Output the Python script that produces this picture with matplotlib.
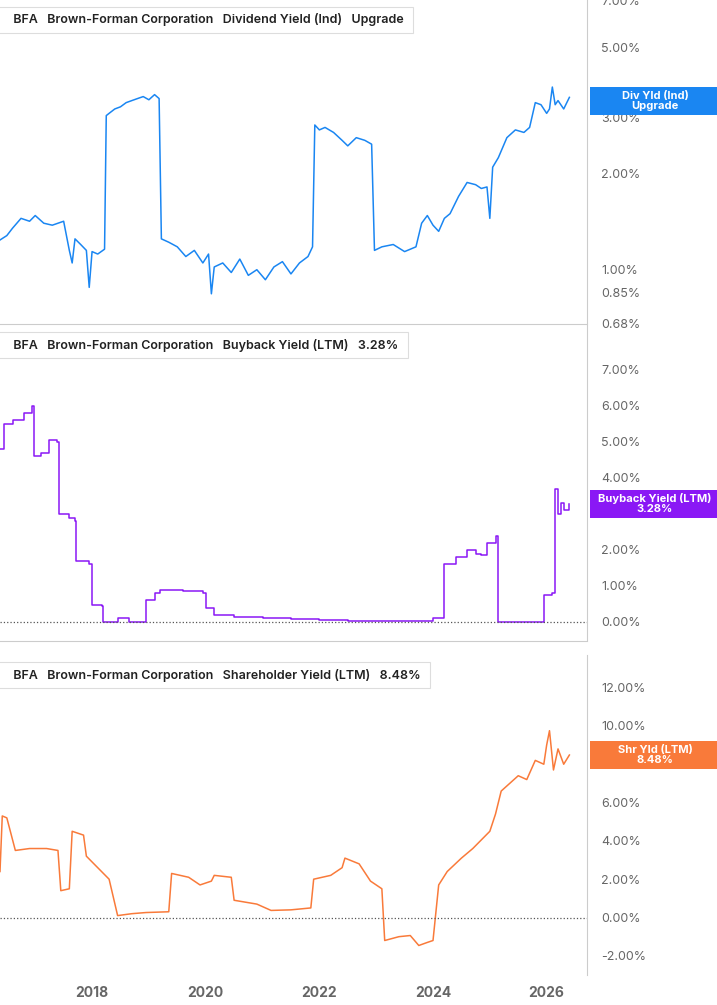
import matplotlib
matplotlib.use("Agg")
import matplotlib.pyplot as plt
import matplotlib.ticker as mt
from matplotlib.patches import Rectangle

plt.rcParams['font.family'] = ['Inter', 'DejaVu Sans']

div_t = [2016.38,2016.5,2016.6,2016.75,2016.9,2017.0,2017.15,2017.3,2017.5,2017.6,2017.65,2017.7,2017.8,2017.9,2017.95,2018.0,2018.1,2018.22,2018.25,2018.3,2018.4,2018.5,2018.6,2018.7,2018.8,2018.9,2019.0,2019.1,2019.18,2019.22,2019.35,2019.5,2019.65,2019.8,2019.95,2020.05,2020.1,2020.15,2020.3,2020.45,2020.6,2020.75,2020.9,2021.05,2021.2,2021.35,2021.5,2021.65,2021.8,2021.88,2021.92,2022.0,2022.1,2022.25,2022.4,2022.5,2022.65,2022.8,2022.92,2022.97,2023.1,2023.3,2023.5,2023.7,2023.8,2023.9,2024.0,2024.1,2024.2,2024.3,2024.45,2024.6,2024.75,2024.85,2024.95,2025.0,2025.05,2025.15,2025.3,2025.45,2025.6,2025.7,2025.8,2025.9,2026.0,2026.05,2026.1,2026.15,2026.2,2026.3,2026.4]
div_v = [1.24,1.28,1.35,1.45,1.42,1.48,1.40,1.38,1.42,1.15,1.05,1.25,1.20,1.15,0.88,1.14,1.12,1.16,3.05,3.10,3.20,3.25,3.35,3.40,3.45,3.50,3.42,3.55,3.45,1.25,1.22,1.18,1.10,1.15,1.05,1.12,0.84,1.02,1.05,0.98,1.08,0.96,1.00,0.93,1.02,1.06,0.97,1.05,1.10,1.18,2.85,2.75,2.80,2.70,2.55,2.45,2.60,2.55,2.48,1.15,1.18,1.20,1.14,1.18,1.40,1.48,1.38,1.32,1.45,1.50,1.70,1.88,1.85,1.80,1.82,1.45,2.10,2.25,2.60,2.75,2.70,2.80,3.35,3.30,3.10,3.20,3.75,3.30,3.40,3.20,3.48]

bb_t = [2016.38,2016.45,2016.6,2016.8,2016.95,2016.97,2017.1,2017.25,2017.38,2017.42,2017.6,2017.7,2017.72,2017.95,2018.0,2018.18,2018.2,2018.4,2018.45,2018.65,2018.95,2019.1,2019.2,2019.6,2019.95,2020.0,2020.15,2020.5,2021.0,2021.5,2022.0,2022.5,2023.0,2023.5,2023.92,2024.0,2024.15,2024.2,2024.4,2024.6,2024.75,2024.85,2024.95,2025.1,2025.15,2025.5,2025.9,2025.95,2026.05,2026.1,2026.15,2026.2,2026.25,2026.3,2026.4]
bb_v = [4.8,5.5,5.6,5.8,6.0,4.6,4.7,5.05,5.0,3.0,2.9,2.8,1.7,1.6,0.47,0.45,0.0,0.0,0.1,0.0,0.6,0.8,0.9,0.85,0.8,0.4,0.2,0.15,0.12,0.08,0.05,0.03,0.02,0.02,0.02,0.1,0.1,1.6,1.8,2.0,1.9,1.85,2.2,2.4,0.0,0.0,0.0,0.75,0.75,0.8,3.7,3.0,3.3,3.1,3.28]

sh_t = [2016.38,2016.42,2016.5,2016.65,2016.9,2017.2,2017.4,2017.45,2017.6,2017.65,2017.85,2017.9,2018.3,2018.45,2018.7,2018.95,2019.35,2019.4,2019.7,2019.9,2020.1,2020.15,2020.45,2020.5,2020.9,2021.15,2021.5,2021.85,2021.9,2022.2,2022.4,2022.45,2022.7,2022.9,2023.1,2023.15,2023.4,2023.6,2023.75,2023.9,2024.0,2024.1,2024.25,2024.5,2024.7,2024.9,2025.0,2025.1,2025.2,2025.35,2025.5,2025.65,2025.8,2025.95,2026.0,2026.05,2026.12,2026.2,2026.3,2026.4]
sh_v = [2.4,5.3,5.2,3.5,3.6,3.6,3.5,1.4,1.5,4.5,4.3,3.2,2.0,0.1,0.2,0.26,0.3,2.3,2.1,1.7,1.9,2.2,2.1,0.9,0.7,0.37,0.4,0.5,2.0,2.2,2.6,3.1,2.8,1.9,1.5,-1.2,-1.0,-0.94,-1.46,-1.3,-1.2,1.7,2.4,3.1,3.6,4.2,4.5,5.4,6.6,7.0,7.4,7.2,8.2,8.0,9.0,9.75,7.7,8.8,8.0,8.48]

fig = plt.figure(figsize=(7.17,10.05), dpi=100)
W = 717; H = 1005
def ax_at(top, bot):
    return fig.add_axes([0, 1-bot/H, 587/W, (bot-top)/H])

xl = (2016.38, 2026.71)
gray = '#666666'
panels = [
    (0, 323, div_t, div_v, '#1a86f2', 'Dividend Yield (Ind)', 'Upgrade', 'Div Yld (Ind)\nUpgrade', 101),
    (325, 640, bb_t, bb_v, '#8a18f5', 'Buyback Yield (LTM)', '3.28%', 'Buyback Yield (LTM)\n3.28%', 504),
    (655, 975, sh_t, sh_v, '#f97a3a', 'Shareholder Yield (LTM)', '8.48%', 'Shr Yld (LTM)\n8.48%', 755),
]
for i,(top,bot,t,v,c,name,val,lab,ly) in enumerate(panels):
    ax = ax_at(top,bot)
    ax.plot(t, v, color=c, lw=1.1, drawstyle='steps-post' if i==1 else 'default')
    ax.set_xlim(*xl)
    ax.yaxis.tick_right()
    for s in ['left','top','bottom']:
        ax.spines[s].set_visible(False)
    ax.spines['right'].set_color('#cccccc')
    if i == 0:
        ax.set_yscale('log')
        ax.set_ylim(0.68, 7.04)
        ticks = [0.68,0.85,1,2,3,5,7]
    elif i == 1:
        ax.set_ylim(-0.5, 8.25)
        ticks = [0,1,2,3,4,5,6,7]
        ax.axhline(0, color='#555555', ls=':', lw=0.9)
    else:
        ax.set_ylim(-3.0, 13.7)
        ticks = [-2,0,2,4,6,8,10,12]
        ax.axhline(0, color='#555555', ls=':', lw=0.9)
    ax.yaxis.set_major_locator(mt.FixedLocator(ticks))
    ax.yaxis.set_minor_locator(mt.NullLocator())
    ax.set_yticklabels(['%.2f%%' % x for x in ticks])
    ax.tick_params(axis='y', length=0, labelsize=9, colors=gray, pad=10)
    ax.set_xticks([2018,2020,2022,2024,2026])
    if i < 2:
        ax.tick_params(axis='x', length=0, labelbottom=False)
        fig.add_artist(plt.Line2D([0,587/W],[1-(bot+1)/H]*2, color='#cccccc', lw=0.8))
    else:
        ax.tick_params(axis='x', length=0, labelsize=10, colors=gray, pad=8)
        for l in ax.get_xticklabels(): l.set_fontweight('bold')
    # title box
    ax.text(0.006, 1-(20)/(bot-top), '   BFA   Brown-Forman Corporation   ' + name + '   ' + val + ' ',
            transform=ax.transAxes, fontsize=9, color='#222222', va='center', fontweight='semibold',
            bbox=dict(boxstyle='square,pad=0.55', fc='white', ec='#dddddd', lw=0.8))
    ax.plot([0.011,0.011],[1-11/(bot-top),1-29/(bot-top)], transform=ax.transAxes, color=c, lw=3, clip_on=False, solid_capstyle='butt')
    # right label box
    fig.add_artist(Rectangle((590/W, 1-(ly+14)/H), 127/W, 28/H, transform=fig.transFigure, fc=c, ec='none'))
    fig.text(655/W, 1-ly/H, lab, ha='center', va='center', fontsize=8, color='white', fontweight='bold', linespacing=1.0)
fig.savefig('out.png', dpi=100)
